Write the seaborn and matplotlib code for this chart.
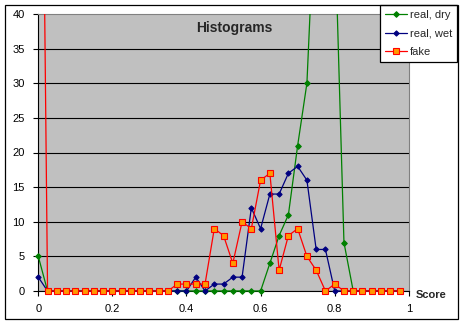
import matplotlib
matplotlib.use("Agg")
import matplotlib.pyplot as plt
import seaborn as sns
import pandas as pd
from matplotlib.patches import Rectangle
from matplotlib.transforms import Bbox, TransformedBbox

# ---- data ----
score = [0.0, 0.025, 0.05, 0.075, 0.1, 0.125, 0.15, 0.175, 0.2, 0.225,
         0.25, 0.275, 0.3, 0.325, 0.35, 0.375, 0.4, 0.425, 0.45, 0.475,
         0.5, 0.525, 0.55, 0.575, 0.6, 0.625, 0.65, 0.675, 0.7, 0.725,
         0.75, 0.775, 0.8, 0.825, 0.85, 0.875, 0.9, 0.925, 0.95, 0.975]
real_dry = [5, 0, 0, 0, 0, 0, 0, 0, 0, 0,
            0, 0, 0, 0, 0, 0, 0, 0, 0, 0,
            0, 0, 0, 0, 0, 4, 8, 11, 21, 30,
            60, 75, 53, 7, 0, 0, 0, 0, 0, 0]
real_wet = [2, 0, 0, 0, 0, 0, 0, 0, 0, 0,
            0, 0, 0, 0, 0, 0, 0, 2, 0, 1,
            1, 2, 2, 12, 9, 14, 14, 17, 18, 16,
            6, 6, 0, 0, 0, 0, 0, 0, 0, 0]
fake = [130, 0, 0, 0, 0, 0, 0, 0, 0, 0,
        0, 0, 0, 0, 0, 1, 1, 1, 1, 9,
        8, 4, 10, 9, 16, 17, 3, 8, 9, 5,
        3, 0, 1, 0, 0, 0, 0, 0, 0, 0]
series_names = ["real, dry", "real, wet", "fake"]
x_ticks = [0, 0.2, 0.4, 0.6, 0.8, 1]
x_ticklabels = ["0", "0.2", "0.4", "0.6", "0.8", "1"]
y_ticks = [0, 5, 10, 15, 20, 25, 30, 35, 40]

df = pd.DataFrame({"Score": score, "real, dry": real_dry,
                   "real, wet": real_wet, "fake": fake})

sns.set_style("white")
plt.rcParams["font.family"] = ["Liberation Sans", "DejaVu Sans"]

W, H = 464, 324
fig = plt.figure(figsize=(W / 100, H / 100), dpi=100)
ax = fig.add_axes([38.3 / W, 33 / H, (408.8 - 38.3) / W, 277 / H])
ax.set_facecolor("#C0C0C0")

styles = {
    "real, dry": dict(color="#008000", marker="D", markersize=2.9,
                      markerfacecolor="#008000", markeredgecolor="#008000"),
    "real, wet": dict(color="#000080", marker="D", markersize=2.7,
                      markerfacecolor="#000080", markeredgecolor="#000080"),
    "fake": dict(color="#FF0000", marker="s", markersize=3.8,
                 markerfacecolor="#FF9900", markeredgecolor="#FF0000",
                 markeredgewidth=0.8),
}
for name in series_names:
    sns.lineplot(data=df, x="Score", y=name, ax=ax, errorbar=None,
                 linewidth=0.9, label=name, zorder=3, **styles[name])

ax.set_xlim(0, 1)
ax.set_ylim(0, 40)
ax.set_xticks(x_ticks)
ax.set_xticklabels(x_ticklabels)
ax.set_yticks(y_ticks)
ax.set_xlabel("")
ax.set_ylabel("")
ax.tick_params(axis="both", direction="out", length=3.6, width=0.8,
               color="black", labelsize=8, labelcolor="black")
ax.tick_params(axis="y", pad=6.3, left=True)
ax.tick_params(axis="x", pad=5.8, bottom=True)

ax.set_axisbelow(True)
ax.grid(axis="y", color="black", linewidth=0.8)
ax.grid(axis="x", visible=False)
ax.yaxis.get_gridlines()[-1].set_visible(False)

for side in ["left", "bottom"]:
    ax.spines[side].set_color("black")
    ax.spines[side].set_linewidth(0.8)
for side in ["top", "right"]:
    ax.spines[side].set_color("#808080")
    ax.spines[side].set_linewidth(0.8)

# let markers at the bottom/left edges show fully, clip only the top
clip = TransformedBbox(Bbox.from_extents(-0.03, -0.04, 1.03, 1.0), ax.transAxes)
for ln in ax.lines:
    ln.set_clip_path(None)
    ln.set_clip_box(clip)

handles = ax.lines[:3]
leg = ax.legend(handles, series_names, loc="upper right",
                bbox_to_anchor=(457.5 / W, 1 - 4.5 / H),
                bbox_transform=fig.transFigure, frameon=True, fancybox=False,
                edgecolor="black", framealpha=1, facecolor="white",
                borderaxespad=0, handlelength=2.0, handletextpad=0.25,
                labelspacing=0.8, borderpad=0.45, fontsize=8)
leg.get_frame().set_linewidth(0.9)

fig.text(234 / W, 1 - 32.3 / H, "Histograms", ha="center", va="baseline",
         fontsize=10, fontweight="bold")
fig.text(416 / W, 1 - 298.3 / H, "Score", ha="left", va="baseline",
         fontsize=8, fontweight="bold")

fig.patches.append(Rectangle((4.5 / W, 1 - 318.5 / H), (458 - 4.5) / W,
                             (318.5 - 4.5) / H, transform=fig.transFigure,
                             fill=False, edgecolor="black", linewidth=0.9))

fig.savefig("out.png", dpi=100, facecolor="white")
